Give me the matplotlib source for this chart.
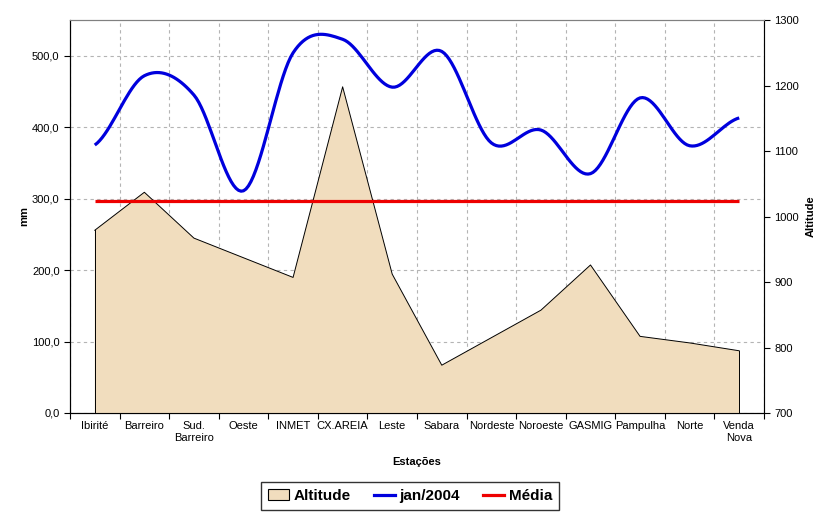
import numpy as np
import matplotlib
matplotlib.use('Agg')
import matplotlib.pyplot as plt
from matplotlib.patches import Patch
from matplotlib.lines import Line2D
from matplotlib.ticker import FuncFormatter

plt.rcParams['font.family'] = ['Liberation Sans', 'DejaVu Sans']

# data
estacoes = ['Ibirité', 'Barreiro', 'Sud.\nBarreiro', 'Oeste', 'INMET', 'CX.AREIA', 'Leste',
            'Sabara', 'Nordeste', 'Noroeste', 'GASMIG', 'Pampulha', 'Norte', 'Venda\nNova']
altitude = [979, 1037, 967, 937, 907, 1198, 912, 773, 815, 857, 926, 817, 807, 795]
jan2004 = [375, 472, 445, 311, 504, 523, 456, 506, 378, 396, 335, 441, 374, 413]
media = [296] * len(estacoes)


# smoothed line like excel does it (catmull-rom between the points)
def smooth(xs, ys, steps=20):
    xs = np.asarray(xs, float)
    ys = np.asarray(ys, float)
    px = np.concatenate([[2 * xs[0] - xs[1]], xs, [2 * xs[-1] - xs[-2]]])
    py = np.concatenate([[ys[0]], ys, [ys[-1]]])
    out_x, out_y = [], []
    for i in range(1, len(px) - 2):
        t = np.linspace(0, 1, steps, endpoint=False)
        for p, out in ((px, out_x), (py, out_y)):
            p0, p1, p2, p3 = p[i - 1], p[i], p[i + 1], p[i + 2]
            out.extend(0.5 * ((2 * p1) + (-p0 + p2) * t + (2 * p0 - 5 * p1 + 4 * p2 - p3) * t**2
                              + (-p0 + 3 * p1 - 3 * p2 + p3) * t**3))
    out_x.append(xs[-1])
    out_y.append(ys[-1])
    return out_x, out_y


x = np.arange(len(estacoes))

fig = plt.figure(figsize=(8.31, 5.15), dpi=100)
ax = fig.add_axes([70 / 831, 102 / 515, 694 / 831, 393 / 515])

# bottom axes: mm scale + grid
ax.set_xlim(-0.5, len(estacoes) - 0.5)
ax.set_ylim(0, 550)
ax.set_yticks(range(0, 501, 100))
ax.yaxis.set_major_formatter(FuncFormatter(lambda v, p: ('%.1f' % v).replace('.', ',')))
ax.set_xticks(np.arange(-0.5, len(estacoes), 1))
ax.set_xticklabels([])
ax.set_xticks(x, minor=True)
ax.set_xticklabels(estacoes, minor=True)
ax.tick_params(axis='x', which='minor', length=0, pad=6, labelsize=8)
ax.tick_params(axis='x', which='major', length=4, direction='out')
ax.tick_params(axis='y', length=4, direction='out', labelsize=8)
ax.grid(True, which='major', color='#b4b4b4', linestyle=(0, (3, 3)), linewidth=0.8)
ax.set_ylabel('mm', fontweight='bold', fontsize=8, labelpad=2)
ax.set_xlabel('Estações', fontweight='bold', fontsize=8, labelpad=10)
ax.spines['top'].set_color('#808080')
ax.spines['right'].set_color('#808080')

# altitude area on the right axis
ax2 = ax.twinx()
ax2.set_ylim(700, 1300)
ax2.set_yticks(range(700, 1301, 100))
ax2.fill_between(x, 700, altitude, facecolor='#F1DDBE', edgecolor='none')
ax2.plot(x, altitude, color='black', linewidth=0.7)
ax2.plot([x[0], x[0]], [700, altitude[0]], color='black', linewidth=0.7)
ax2.plot([x[-1], x[-1]], [700, altitude[-1]], color='black', linewidth=0.7)
ax2.tick_params(axis='y', length=4, direction='out', labelsize=8)
ax2.set_ylabel('Altitude', fontweight='bold', fontsize=8, labelpad=5)
ax2.spines['right'].set_color('black')
ax2.spines['top'].set_color('#808080')

# lines on top, same mm scale
ax3 = ax.twinx()
ax3.set_ylim(0, 550)
ax3.axis('off')
sx, sy = smooth(x, jan2004)
ax3.plot(sx, sy, color='#0000dd', linewidth=2.3, solid_capstyle='butt')
ax3.plot(x, media, color='#ee0000', linewidth=2.3, solid_capstyle='butt')

ax2.set_zorder(1)
ax3.set_zorder(2)
ax2.patch.set_visible(False)
ax3.patch.set_visible(False)

handles = [Patch(facecolor='#F1DDBE', edgecolor='black', linewidth=0.8),
           Line2D([], [], color='#0000dd', linewidth=2.3),
           Line2D([], [], color='#ee0000', linewidth=2.3)]
leg = fig.legend(handles, ['Altitude', 'jan/2004', 'Média'], loc='center',
                 bbox_to_anchor=(410 / 831, 1 - 496 / 515), ncol=3, frameon=True,
                 fancybox=False, edgecolor='black', handlelength=1.4, handletextpad=0.3,
                 columnspacing=1.5, borderpad=0.45, prop={'weight': 'bold', 'size': 11})
leg.get_frame().set_linewidth(1.0)

fig.savefig('out.png', dpi=100)
